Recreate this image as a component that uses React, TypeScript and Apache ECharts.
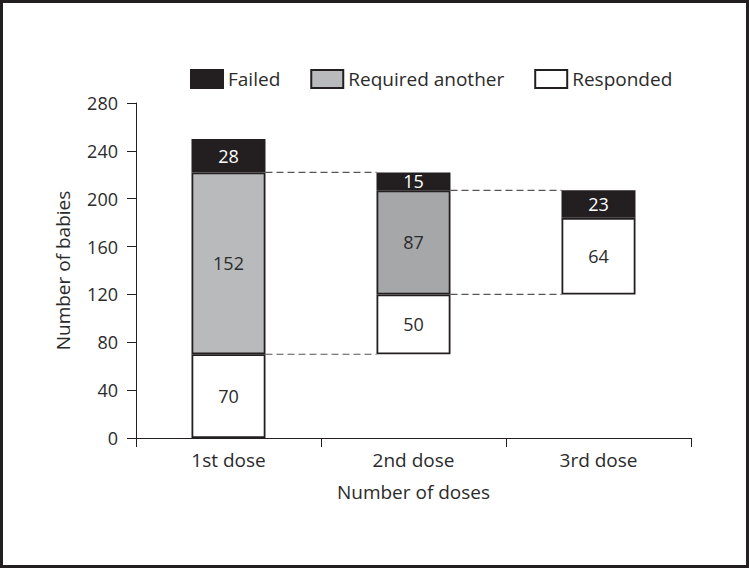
import React, { useEffect, useRef } from "react";
import * as echarts from "echarts";

const categories = ["1st dose", "2nd dose", "3rd dose"];
const baseValues = [0, 70, 120];
const responded = [70, 50, 64];
const requiredAnother: (number | null)[] = [152, 87, null];
const failed = [28, 15, 23];
const yTicks = { min: 0, max: 280, interval: 40 };

const FONT = "'Open Sans', 'Noto Sans', sans-serif";
const INK = "#231f20";
const TEXT = "#2b2b2b";

export default function App() {
  const ref = useRef<HTMLDivElement>(null);

  useEffect(() => {
    document.body.style.margin = "0";
    if (!ref.current) return;
    const chart = echarts.init(ref.current, null, { renderer: "svg" });

    const connectors: number[][] = [];
    for (let i = 0; i < categories.length - 1; i++) {
      const lower = baseValues[i] + responded[i];
      const upper = lower + (requiredAnother[i] ?? 0);
      connectors.push([i, lower]);
      connectors.push([i, upper]);
    }

    const labelStyle = (color: string) => ({
      show: true,
      position: "inside" as const,
      color,
      fontSize: 18,
      fontFamily: FONT,
      formatter: (p: any) => (p.value == null ? "" : String(p.value)),
    });

    const option: any = {
      animation: false,
      textStyle: { fontFamily: FONT },
      graphic: [
        {
          type: "rect",
          shape: { x: 1.5, y: 1.5, width: 746, height: 565 },
          style: { fill: "none", stroke: INK, lineWidth: 3 },
          silent: true,
        },
      ],
      legend: {
        left: 185,
        top: 64,
        itemWidth: 32,
        itemHeight: 18,
        itemGap: 30,
        icon: "rect",
        data: ["Failed", "Required another", "Responded"],
        textStyle: { fontSize: 19, color: TEXT, fontFamily: FONT },
      },
      grid: { left: 136, right: 58, top: 103, bottom: 130 },
      xAxis: {
        type: "category",
        data: categories,
        name: "Number of doses",
        nameLocation: "middle",
        nameGap: 44,
        nameTextStyle: { fontSize: 19, color: TEXT, fontFamily: FONT },
        axisLine: { lineStyle: { color: INK, width: 1 } },
        axisTick: { show: true, length: 9, lineStyle: { color: INK } },
        axisLabel: { fontSize: 19, color: TEXT, margin: 12, fontFamily: FONT },
      },
      yAxis: {
        type: "value",
        min: yTicks.min,
        max: yTicks.max,
        interval: yTicks.interval,
        name: "Number of babies",
        nameLocation: "middle",
        nameGap: 64,
        nameTextStyle: { fontSize: 19, color: TEXT, fontFamily: FONT },
        axisLine: { show: true, lineStyle: { color: INK, width: 1 } },
        axisTick: { show: true, length: 9, lineStyle: { color: INK } },
        axisLabel: { fontSize: 18, color: TEXT, margin: 18, fontFamily: FONT },
        splitLine: { show: false },
      },
      series: [
        {
          name: "base",
          type: "bar",
          stack: "total",
          barWidth: "40%",
          data: baseValues,
          itemStyle: { color: "transparent", borderWidth: 0 },
          silent: true,
          legendHoverLink: false,
        },
        {
          name: "Responded",
          type: "bar",
          stack: "total",
          data: responded,
          itemStyle: { color: "#ffffff", borderColor: INK, borderWidth: 1.8 },
          label: labelStyle(TEXT),
        },
        {
          name: "Required another",
          type: "bar",
          stack: "total",
          data: requiredAnother.map((v, i) => ({
            value: v,
            itemStyle: { color: i === 1 ? "#a6a7a9" : "#b9babc" },
          })),
          itemStyle: { color: "#b9babc", borderColor: INK, borderWidth: 1.8 },
          label: labelStyle(TEXT),
        },
        {
          name: "Failed",
          type: "bar",
          stack: "total",
          data: failed,
          itemStyle: { color: INK, borderColor: INK, borderWidth: 1.8 },
          label: labelStyle("#ffffff"),
        },
        {
          name: "connectors",
          type: "custom",
          silent: true,
          data: connectors,
          encode: { x: 0, y: 1 },
          renderItem: (params: any, api: any) => {
            const idx = api.value(0);
            const val = api.value(1);
            const barW = api.size([1, 0])[0] * 0.4;
            const p1 = api.coord([idx, val]);
            const p2 = api.coord([idx + 1, val]);
            return {
              type: "line",
              shape: { x1: p1[0] + barW / 2, y1: p1[1], x2: p2[0] - barW / 2, y2: p2[1] },
              style: { stroke: "#555555", lineWidth: 1.2, lineDash: [7, 4] },
            };
          },
          z: 1,
        },
      ],
    };

    chart.setOption(option);
    return () => chart.dispose();
  }, []);

  return <div ref={ref} style={{ width: 749, height: 568 }} />;
}
